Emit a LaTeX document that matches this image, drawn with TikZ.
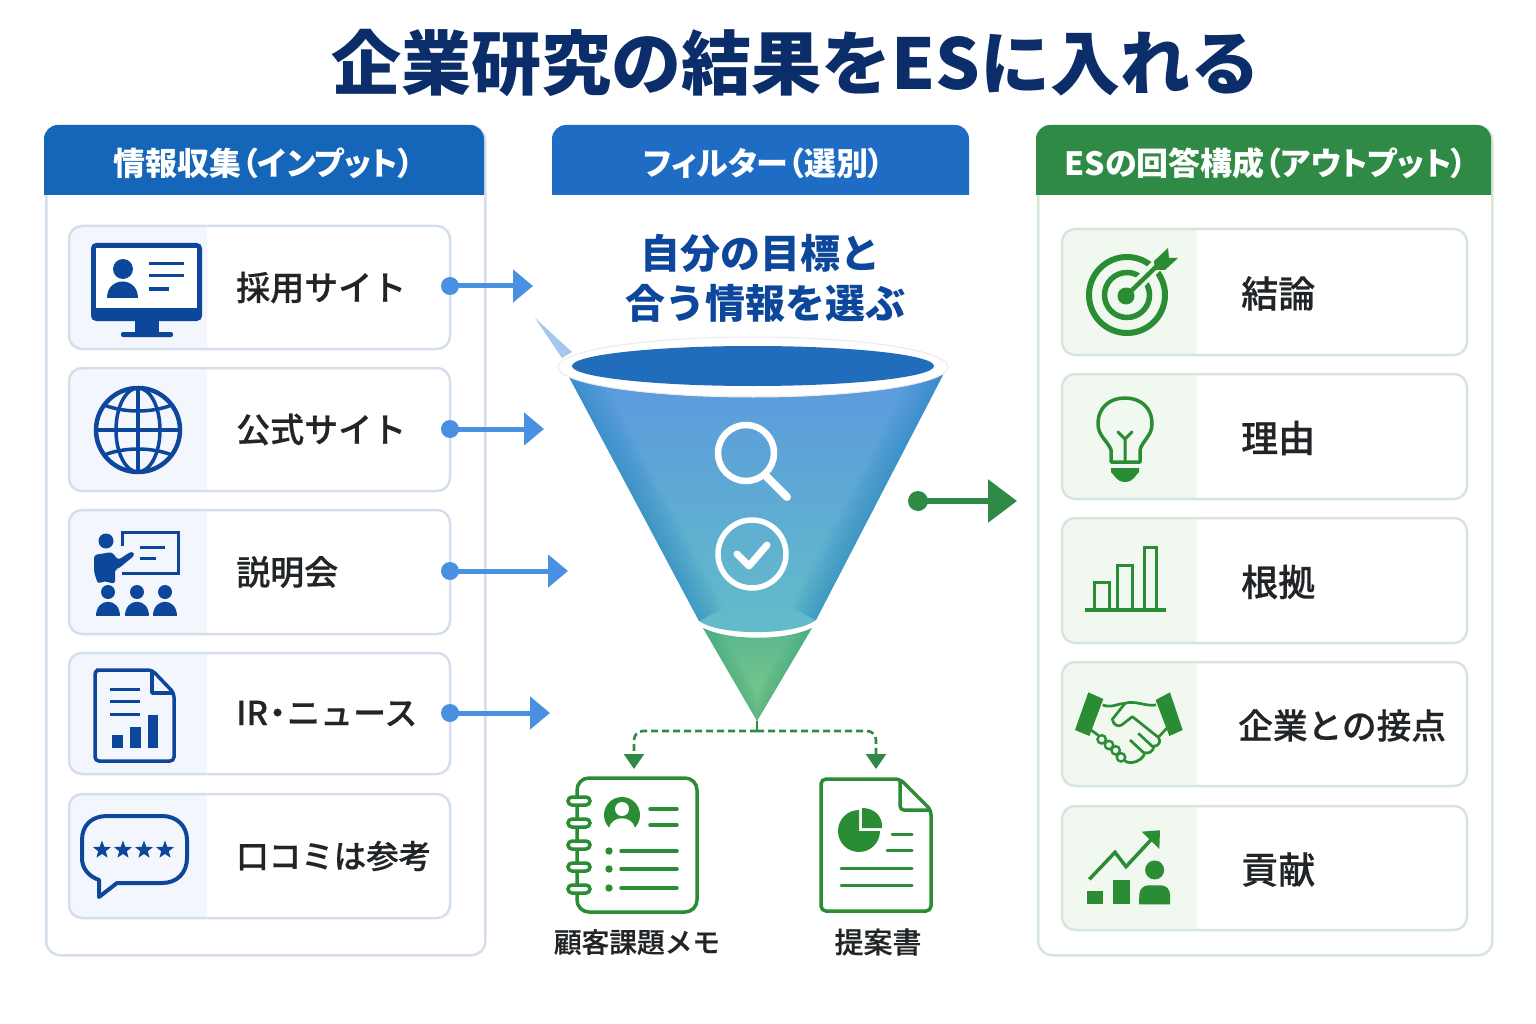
\documentclass[tikz,border=0pt]{standalone}
\usepackage{fontspec}
\setmainfont{Noto Sans CJK JP}
\newfontfamily\paltfont{Noto Sans CJK JP}[RawFeature=+palt]
\newfontfamily\medfont{Noto Sans CJK JP Medium}[FakeBold=0.5]
\usetikzlibrary{arrows.meta,shapes.geometric}

\definecolor{titleblue}{HTML}{0B2E6B}
\definecolor{headblue}{HTML}{1565B8}
\definecolor{midblue}{HTML}{1E6CC4}
\definecolor{headgreen}{HTML}{2F8A46}
\definecolor{iconblue}{HTML}{0D479C}
\definecolor{icongreen}{HTML}{2A8C33}
\definecolor{flowblue}{HTML}{4A90E2}
\definecolor{panelblue}{HTML}{D5DFEB}
\definecolor{panelgreen}{HTML}{D6E6DA}
\definecolor{paleblue}{HTML}{F3F6FD}
\definecolor{palegreen}{HTML}{F0F8F0}
\definecolor{inktext}{HTML}{222528}
\definecolor{cupa}{HTML}{5B99DE}
\definecolor{cupb}{HTML}{4AA8DA}
\definecolor{cupc}{HTML}{63BDC8}
\definecolor{cupedge}{HTML}{2585C4}
\definecolor{tipa}{HTML}{5AB68F}
\definecolor{tipb}{HTML}{80CD8A}
\definecolor{tipedge}{HTML}{3FA67A}

\newcommand{\sz}[1]{\fontsize{#1}{#1}\selectfont\bfseries}
\newcommand{\mz}[1]{\medfont\fontsize{#1}{#1}\selectfont}

\tikzset{
    panelbox/.style={draw, line width=2.5pt, rounded corners=14pt, inner sep=0pt},
    rowbox/.style={draw, line width=2.5pt, rounded corners=13pt, inner sep=0pt},
    headtext/.style={text=white, inner sep=0pt, font=\paltfont\sz{32}},
    rowtext/.style={text=inktext, anchor=west, inner sep=0pt},
    smalltext/.style={text=inktext, inner sep=0pt},
    dotblue/.style={circle, fill=flowblue, minimum size=18pt, inner sep=0pt},
    dotgreen/.style={circle, fill=headgreen, minimum size=20pt, inner sep=0pt},
    flowarrow/.style={draw=flowblue, line width=5pt, -{Triangle[length=20pt,width=32pt]}},
    outarrow/.style={draw=headgreen, line width=6pt, -{Triangle[length=29pt,width=42pt]}},
    forkarrow/.style={draw=headgreen, line width=2.6pt, dash pattern=on 7pt off 4pt,
        rounded corners=9pt, -{Triangle[length=15pt,width=20pt]}},
    blueline/.style={draw=iconblue, line width=3.5pt},
    greenline/.style={draw=icongreen, line width=3.5pt},
    starmark/.style={star, star points=5, star point ratio=2.4, fill=iconblue,
        minimum size=19pt, inner sep=0pt}
}

\begin{document}
\begin{tikzpicture}[x=1pt, y=-1pt]
    \useasboundingbox (0,0) rectangle (1536,1024);

    % Title
    \node[text=titleblue, inner sep=0pt, font=\sz{70}] (title) at (796,63) {企業研究の結果をESに入れる};

    % Panels
    \node[panelbox, draw=panelblue, minimum width=439pt, minimum height=829pt, anchor=north west] (inbox) at (45,125) {};
    \node[panelbox, draw=panelgreen, minimum width=454pt, minimum height=829pt, anchor=north west] (outbox) at (1037,125) {};

    % Panel heads
    \foreach \xa/\xb/\hue in {44/484/headblue, 552/969/midblue, 1036/1491/headgreen}{
        \begin{scope}
            \clip (\xa,120) rectangle (\xb,195);
            \fill[\hue, rounded corners=14pt] (\xa,125) rectangle (\xb,240);
        \end{scope}
    }
    \node[headtext] (inhead) at (264,163) {情報収集（インプット）};
    \node[headtext] (filterhead) at (764,163) {フィルター（選別）};
    \node[headtext] (outhead) at (1266,163) {ESの回答構成（アウトプット）};

    % Left rows
    \foreach \name/\ya/\yb/\fsize/\txt in {
        rowa/226/349/34/採用サイト, rowb/368/491/34/公式サイト, rowc/510/634/34/説明会,
        rowd/653/774/33/IR\kern-7pt・\kern-7ptニュース, rowe/794/918/32.5/口コミは参考}{
        \pgfmathsetmacro{\ym}{(\ya+\yb)/2}
        \pgfmathsetmacro{\hh}{\yb-\ya}
        \begin{scope}
            \clip (60,\ya) rectangle (207,\yb);
            \fill[paleblue, rounded corners=13pt] (69,\ya) rectangle (240,\yb);
        \end{scope}
        \node[rowbox, draw=panelblue, minimum width=381pt, minimum height=\hh pt] (\name) at (259.5,\ym) {};
        \node[rowtext, font=\mz{\fsize}] (\name text) at (236,\ym) {\txt};
    }

    % Right rows
    \foreach \name/\ya/\yb/\xt/\fsize/\txt in {
        rowf/229/355/1241/37/結論, rowg/374/499/1241/37/理由, rowh/518/643/1241/37/根拠,
        rowi/662/786/1238/34.7/企業との接点, rowj/806/930/1241/37/貢献}{
        \pgfmathsetmacro{\ym}{(\ya+\yb)/2+1.5}
        \pgfmathsetmacro{\ymm}{(\ya+\yb)/2}
        \pgfmathsetmacro{\hh}{\yb-\ya}
        \begin{scope}
            \clip (1050,\ya) rectangle (1197,\yb);
            \fill[palegreen, rounded corners=13pt] (1062,\ya) rectangle (1240,\yb);
        \end{scope}
        \node[rowbox, draw=panelgreen, minimum width=405pt, minimum height=\hh pt] (\name) at (1264.5,\ymm) {};
        \node[rowtext, font=\mz{\fsize}] (\name text) at (\xt,\ym) {\txt};
    }

    % Filter text
    \node[text=iconblue, inner sep=0pt, font=\sz{40}] (goala) at (760,253) {自分の目標と};
    \node[text=iconblue, inner sep=0pt, font=\sz{40}] (goalb) at (765,303) {合う情報を選ぶ};

    % Funnel
    \fill[flowblue!50] (535,318) -- (572,352) -- (562,358) -- cycle;
    \begin{scope}
        \clip (569,377) -- (699,621) .. controls (720,636) and (795,636) .. (816,620) -- (943,375) -- cycle;
        \shade[top color=cupa, middle color=cupb, bottom color=cupc] (560,370) rectangle (950,640);
        \foreach \wd in {4,8,...,56}{
            \draw[cupedge, opacity=0.045, line width=\wd pt] (569,377) -- (699,621) (943,375) -- (816,620);
        }
    \end{scope}
    \begin{scope}
        \clip (703,628) .. controls (730,641) and (785,641) .. (812,628) -- (757,721) -- cycle;
        \shade[top color=tipa, bottom color=tipb] (695,625) rectangle (820,725);
        \foreach \wd in {3,6,...,30}{
            \draw[tipedge, opacity=0.05, line width=\wd pt] (703,628) -- (757,721) -- (812,628);
        }
    \end{scope}
    \draw[fill=white, draw=black!8, line width=1pt] (753,367) ellipse [x radius=195pt, y radius=30pt];
    \fill[headblue!95!white] (753,366) ellipse [x radius=181pt, y radius=20pt];

    % Funnel icons
    \draw[white, line width=6.5pt] (746,453) circle [radius=28pt];
    \draw[white, line width=8pt, line cap=round] (767,477) -- (787,497);
    \draw[white, line width=5.5pt] (752,554) circle [radius=34pt];
    \draw[white, line width=7pt, line cap=round, line join=round] (737,554) -- (749,566) -- (767,545);

    % Arrows into the funnel
    \foreach \name/\yy/\xe in {a/286/533, b/429/544, c/571/568, d/713/550}{
        \node[dotblue] (dot\name) at (450,\yy) {};
        \coordinate (in\name) at (\xe,\yy);
        \draw[flowarrow] (dot\name.center) -- (in\name);
    }

    % Arrow out of the funnel
    \node[dotgreen] (dotout) at (918,501) {};
    \coordinate (outend) at (1017,501);
    \draw[outarrow] (dotout.center) -- (outend);

    % Dashed fork
    \coordinate (apex) at (757,721);
    \coordinate (fork) at (757,731);
    \coordinate (memotop) at (634,769);
    \coordinate (doctop) at (876,769);
    \draw[headgreen, line width=2.6pt] (apex) -- (fork);
    \draw[forkarrow] (fork) -| (memotop);
    \draw[forkarrow] (fork) -| (doctop);

    % Monitor icon
    \fill[iconblue, rounded corners=5pt] (91,243) rectangle (202,321);
    \fill[white] (96,248) rectangle (197,308);
    \fill[iconblue] (135,320) -- (159,320) -- (159,333) -- (135,333) -- cycle;
    \fill[iconblue, rounded corners=2pt] (121,332) rectangle (173,337);
    \fill[iconblue] (123,269) circle [radius=10pt];
    \fill[iconblue] (107,298) .. controls (107,276) and (138,276) .. (138,298) -- cycle;
    \draw[iconblue, line width=3pt] (149,264) -- (184,264) (149,276) -- (184,276) (149,289) -- (169,289);

    % Globe icon
    \draw[blueline, line width=4.5pt] (138,430) circle [radius=42pt];
    \draw[blueline] (138,430) ellipse [x radius=22pt, y radius=42pt];
    \draw[blueline] (138,388) -- (138,472) (97,430) -- (179,430);
    \draw[blueline] (104,405) .. controls (125,413) and (151,413) .. (172,405);
    \draw[blueline] (104,455) .. controls (125,447) and (151,447) .. (172,455);

    % Presenter icon
    \draw[blueline, line width=3pt] (122,546) -- (122,532) -- (178,532) -- (178,573) -- (122,573);
    \draw[iconblue, line width=3pt] (140,547) -- (165,547) (140,558) -- (156,558);
    \fill[iconblue] (106,541) circle [radius=7.5pt];
    \fill[iconblue, rounded corners=3pt] (94,572) -- (94,555) -- (112,552) -- (118,560) -- (132,551) -- (135,555)
        -- (118,569) -- (115,569) -- (115,584) -- (104,581) -- (98,584) -- cycle;
    \foreach \xx in {108,137,165}{
        \fill[iconblue] (\xx,592) circle [radius=7pt];
        \fill[iconblue] (\xx-12,616) .. controls (\xx-12,597) and (\xx+12,597) .. (\xx+12,616) -- cycle;
    }

    % Report icon
    \draw[blueline, rounded corners=4pt] (152,670) -- (100,670) -- (95,670) -- (95,761) -- (174,761) -- (174,693) -- cycle;
    \draw[blueline, line join=round] (152,670) -- (152,693) -- (174,693);
    \draw[iconblue, line width=3pt] (110,689) -- (140,689) (110,701) -- (140,701) (110,714) -- (140,714);
    \fill[iconblue] (112,735) rectangle (123,748);
    \fill[iconblue] (130,727) rectangle (141,748);
    \fill[iconblue] (148,715) rectangle (158,748);

    % Review icon
    \draw[blueline, line width=4pt, line join=round] (99,897) -- (99,880) .. controls (88,876) and (82,868) .. (82,858) -- (82,840)
        .. controls (82,825) and (92,816) .. (107,816) -- (162,816) .. controls (177,816) and (187,826) .. (187,840) -- (187,858)
        .. controls (187,873) and (177,883) .. (162,883) -- (117,883) -- cycle;
    \foreach \i/\xx in {a/102, b/123, c/144, d/165}{
        \node[starmark] (star\i) at (\xx,850) {};
    }

    % Memo icon
    \draw[greenline, rounded corners=12pt] (577,778) rectangle (697,912);
    \foreach \yy in {801,823,845,867,889}{
        \draw[greenline, fill=white, rounded corners=4pt] (568,\yy-4) rectangle (590,\yy+4);
    }
    \fill[icongreen] (622,815) circle [radius=18pt];
    \fill[white] (622,809) circle [radius=7pt];
    \fill[white] (609,828) .. controls (612,815) and (632,815) .. (635,828) .. controls (630,835) and (614,835) .. (609,828) -- cycle;
    \draw[greenline, line cap=round] (650,809) -- (677,809) (650,825) -- (677,825);
    \foreach \yy in {851,869,888}{
        \fill[icongreen] (609,\yy) circle [radius=3.7pt];
        \draw[greenline, line cap=round] (621,\yy) -- (677,\yy);
    }

    % Proposal icon
    \draw[greenline, rounded corners=5pt] (900,779) -- (821,779) -- (821,911) -- (931,911) -- (931,810) -- cycle;
    \draw[greenline, rounded corners=4pt] (900,779) -- (900,810) -- (931,810);
    \fill[icongreen] (859,810) arc [start angle=90, end angle=360, radius=21pt] -- (859,831) -- cycle;
    \fill[icongreen] (862,808) -- (862,828) -- (882,828) .. controls (883,816) and (874,808) .. (862,808) -- cycle;
    \draw[greenline, line width=3pt, line cap=round] (892,834) -- (912,834) (887,850) -- (912,850) (841,868) -- (912,868) (841,885) -- (912,885);

    % Target icon
    \draw[greenline, line width=6pt] (1127,295) circle [radius=38pt];
    \draw[greenline, line width=5.5pt] (1127,295) circle [radius=22.5pt];
    \draw[palegreen, line width=12pt] (1128,294) -- (1172,250);
    \fill[icongreen] (1126,296) circle [radius=8.5pt];
    \draw[greenline, line width=4.5pt] (1128,294) -- (1160,263);
    \fill[icongreen] (1154,261) -- (1168,248) -- (1169,258) -- (1178,258) -- (1165,270) -- (1155,270) -- cycle;

    % Bulb icon
    \draw[greenline, line join=round] (1111,462) -- (1111,450) .. controls (1108,441) and (1098,436) .. (1098,424)
        .. controls (1098,407) and (1110,398) .. (1125,398) .. controls (1140,398) and (1152,407) .. (1152,424)
        .. controls (1152,436) and (1142,441) .. (1140,450) -- (1140,462) -- cycle;
    \draw[greenline, line width=3pt, line cap=round, line join=round] (1125,461) -- (1125,439) (1118,432) -- (1125,439) -- (1132,432);
    \fill[icongreen] (1111,468) -- (1139,468) -- (1139,472) .. controls (1136,474) and (1134,482) .. (1125,482) .. controls (1116,482) and (1114,474) .. (1111,472) -- cycle;

    % Bar icon
    \draw[greenline] (1085,610) -- (1166,610);
    \draw[greenline, line width=3pt] (1094,610) -- (1094,582) -- (1109,582) -- (1109,610);
    \draw[greenline, line width=3pt] (1117,610) -- (1117,565) -- (1132,565) -- (1132,610);
    \draw[greenline, line width=3pt] (1144,610) -- (1144,547) -- (1156,547) -- (1156,610);

    % Handshake icon
    \begin{scope}[shift={(1050,650)}, x=0.3333pt, y=-0.3333pt]
        \fill[icongreen] (115,127) -- (160,147) -- (118,258) -- (75,240) -- cycle;
        \fill[icongreen] (360,127) -- (317,150) -- (358,258) -- (398,240) -- cycle;
        \draw[greenline, line width=2.7pt, line join=round] (158,165) .. controls (185,175) and (205,160) .. (225,160) .. controls (255,150) and (285,170) .. (318,165);
        \draw[greenline, line width=2.7pt, line join=round] (225,160) -- (187,208) .. controls (190,225) and (205,232) .. (215,225) -- (247,200) -- (325,262) .. controls (335,275) and (325,290) .. (312,288)
            .. controls (310,305) and (295,312) .. (285,308) .. controls (280,325) and (265,335) .. (245,338) .. controls (235,340) and (228,335) .. (222,330);
        \draw[greenline, line width=2.7pt] (123,240) -- (145,256) (350,235) -- (325,262);
        \draw[greenline, line width=2.7pt] (265,250) -- (308,290) (240,270) -- (283,310);
        \foreach \xx/\yy in {155/268, 177/285, 197/301, 213/322}{
            \draw[greenline, line width=2.4pt] (\xx,\yy) circle [radius=4.2pt];
        }
    \end{scope}

    % Growth icon
    \begin{scope}[shift={(1050,650)}, x=0.3333pt, y=-0.3333pt]
        \draw[greenline, line join=miter] (118,688) -- (195,607) -- (228,650) -- (310,562);
        \fill[icongreen] (275,545) -- (330,541) -- (328,597) -- cycle;
        \fill[icongreen] (112,723) rectangle (160,763);
        \fill[icongreen] (190,690) rectangle (240,763);
        \fill[icongreen] (314,660) circle [radius=9.5pt];
        \fill[icongreen, rounded corners=9pt] (268,763) -- (268,706) -- (360,706) -- (360,763);
        \fill[icongreen] (268,740) rectangle (360,763);
    \end{scope}

    % Output labels
    \node[smalltext, font=\mz{27.7}] (memolabel) at (637,942) {顧客課題メモ};
    \node[smalltext, font=\mz{29}] (doclabel) at (878,942) {提案書};

\end{tikzpicture}
\end{document}
